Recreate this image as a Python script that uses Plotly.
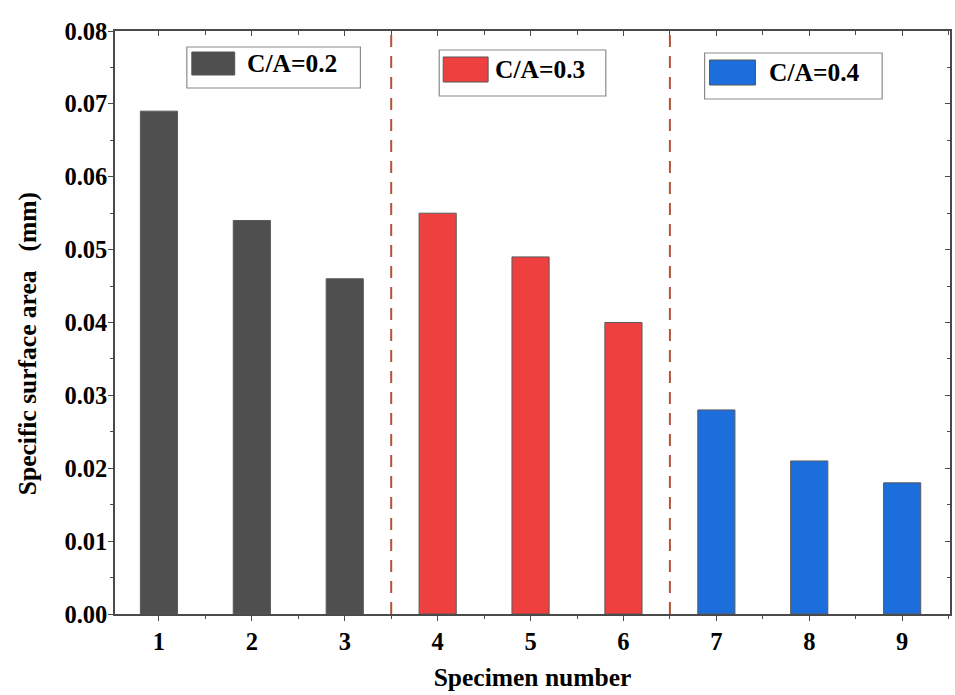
import plotly.graph_objects as go

# Specimen data grouped by C/A ratio
group_labels = ["C/A=0.2", "C/A=0.3", "C/A=0.4"]
group_colors = ["#4f4f4f", "#ef4040", "#1b6edc"]
group_specimens = [[1, 2, 3], [4, 5, 6], [7, 8, 9]]
group_values = [[0.069, 0.054, 0.046], [0.055, 0.049, 0.040], [0.028, 0.021, 0.018]]
group_boundaries = [3.5, 6.5]

FONT = "Liberation Serif"
W, H = 955, 695
L, R, T, B = 115, 3, 31, 81
PW, PH = W - L - R, H - T - B

X_RANGE = [0.527, 9.515]
Y_RANGE = [0, 0.08]


def px_x(px):
    return (px - L) / PW


def px_y(py):
    return (H - B - py) / PH


fig = go.Figure()

for label, color, xs, ys in zip(group_labels, group_colors, group_specimens, group_values):
    fig.add_bar(
        x=xs, y=ys, name=label, width=0.4,
        marker=dict(color=color, line=dict(color="#5a5a5a", width=1)),
        showlegend=False,
    )

# helper trace so the inward-tick overlay axes are drawn
fig.add_scatter(x=[], y=[], xaxis="x2", yaxis="y2", showlegend=False, hoverinfo="skip")

tick_font = dict(family=FONT, size=24.5, color="black", weight="bold")
title_font = dict(family=FONT, size=25.5, color="black", weight="bold")
axis_color = "#4a4a4a"

fig.update_layout(
    width=W, height=H,
    margin=dict(l=L, r=R, t=T, b=B, pad=0),
    paper_bgcolor="white", plot_bgcolor="white",
    barmode="overlay",
    showlegend=False,
    xaxis=dict(
        range=X_RANGE, tick0=1, dtick=1,
        showline=True, linecolor=axis_color, linewidth=1.5, mirror=True,
        ticks="outside", ticklen=5, tickwidth=1.2, tickcolor=axis_color,
        minor=dict(dtick=0.5, tick0=1, ticks="outside", ticklen=3, tickcolor=axis_color),
        tickfont=tick_font, showgrid=False, zeroline=False,
        title=dict(text="Specimen number", font=title_font, standoff=14),
    ),
    yaxis=dict(
        range=Y_RANGE, dtick=0.01, tickformat=".2f",
        showline=True, linecolor=axis_color, linewidth=1.5, mirror=True,
        ticks="outside", ticklen=5, tickwidth=1.2, tickcolor=axis_color,
        minor=dict(dtick=0.005, ticks="outside", ticklen=3, tickcolor=axis_color),
        tickfont=tick_font, ticklabelstandoff=-4,
        showgrid=False, zeroline=False,
    ),
    xaxis2=dict(
        overlaying="x", side="top", anchor="y2", range=X_RANGE, tick0=1, dtick=1,
        ticks="inside", ticklen=5, tickcolor=axis_color,
        minor=dict(dtick=0.5, tick0=1, ticks="inside", ticklen=4, tickcolor=axis_color),
        showticklabels=False, showgrid=False, zeroline=False, showline=False,
    ),
    yaxis2=dict(
        overlaying="y", side="right", anchor="x2", range=Y_RANGE, dtick=0.01,
        ticks="inside", ticklen=5, tickcolor=axis_color,
        minor=dict(dtick=0.005, ticks="inside", ticklen=3, tickcolor=axis_color),
        showticklabels=False, showgrid=False, zeroline=False, showline=False,
    ),
)

# y-axis title, set slightly below the plot's vertical centre
fig.add_annotation(
    xref="paper", yref="paper", x=px_x(28), y=px_y(344),
    xanchor="center", yanchor="middle", textangle=-90, showarrow=False,
    text="Specific surface area\u00a0\u00a0\u00a0(mm)", font=title_font,
)

# dashed separators between the C/A groups
for xb in group_boundaries:
    fig.add_shape(
        type="line", xref="x", yref="paper", x0=xb, x1=xb, y0=0, y1=1,
        line=dict(color="#b4533a", width=2, dash="12px,9px"),
    )

# one framed key per group, placed above its bars
key_boxes = [
    # box x0, x1, y0, y1, swatch x0, x1, y0, y1, text x  (pixels)
    (187, 361, 47, 88, 192, 235, 52, 75, 245),
    (440, 607, 50, 96, 444, 489, 57, 82, 494),
    (706, 884, 53, 99, 711, 757, 60, 85, 769),
]
for label, color, box in zip(group_labels, group_colors, key_boxes):
    bx0, bx1, by0, by1, sx0, sx1, sy0, sy1, tx = box
    fig.add_shape(
        type="rect", xref="paper", yref="paper",
        x0=px_x(bx0), x1=px_x(bx1), y0=px_y(by1), y1=px_y(by0),
        line=dict(color="#8a8a8a", width=1.2), fillcolor="white", layer="above",
    )
    fig.add_shape(
        type="rect", xref="paper", yref="paper",
        x0=px_x(sx0), x1=px_x(sx1), y0=px_y(sy1), y1=px_y(sy0),
        line=dict(color="#555555", width=1), fillcolor=color, layer="above",
    )
    fig.add_annotation(
        xref="paper", yref="paper", x=px_x(tx), y=px_y((sy0 + sy1) / 2),
        xanchor="left", yanchor="middle", showarrow=False,
        text=label, font=dict(family=FONT, size=25.5, color="black", weight="bold"),
    )

fig.write_html("out.html")
